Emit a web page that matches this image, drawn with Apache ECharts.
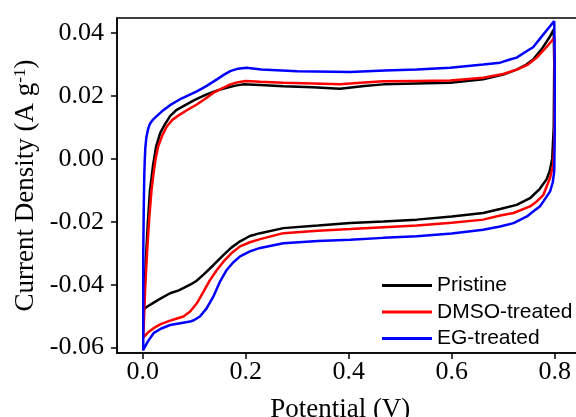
<!DOCTYPE html>
<html>
<head>
<meta charset="utf-8">
<script src="https://cdn.jsdelivr.net/npm/echarts@6/dist/echarts.min.js"></script>
<style>
html,body{margin:0;padding:0;background:#fff;}
#chart{width:576px;height:417px;}
</style>
</head>
<body>
<div id="chart"></div>
<script>
const seriesNames = ['Pristine', 'DMSO-treated', 'EG-treated'];
const xTicks = [0, 0.2, 0.4, 0.6, 0.8];
const yTicks = [-0.06, -0.04, -0.02, 0, 0.02, 0.04];

const pristine = [
 [0.002,-0.048],[0.006,-0.032],[0.010,-0.020],[0.014,-0.010],[0.020,-0.002],[0.026,0.004],[0.034,0.0083],[0.043,0.011],
 [0.053,0.0136],[0.065,0.0155],[0.079,0.0168],[0.1,0.0187],[0.124,0.0205],[0.145,0.0218],[0.163,0.0226],[0.18,0.0233],
 [0.195,0.0237],[0.228,0.0235],[0.273,0.0231],[0.33,0.0228],[0.383,0.0223],[0.43,0.0232],[0.467,0.0237],[0.53,0.024],
 [0.597,0.0242],[0.661,0.0253],[0.7,0.0268],[0.726,0.0284],[0.745,0.030],[0.758,0.0316],[0.775,0.035],[0.791,0.039],[0.798,0.0412],
 [0.799,0.03],[0.798,0.01],[0.795,0.0],[0.790,-0.004],[0.784,-0.0065],[0.771,-0.0095],[0.752,-0.0125],[0.726,-0.0146],
 [0.694,-0.0159],[0.661,-0.0172],[0.6,-0.0183],[0.532,-0.0193],[0.467,-0.0199],[0.403,-0.0204],[0.34,-0.0212],[0.273,-0.022],
 [0.228,-0.0236],[0.208,-0.0245],[0.189,-0.0262],[0.172,-0.0282],[0.157,-0.0305],[0.137,-0.0338],[0.118,-0.0368],[0.104,-0.0388],
 [0.092,-0.04],[0.07,-0.0418],[0.053,-0.0427],[0.03,-0.0448],[0.015,-0.0463],[0.004,-0.0475],[0.002,-0.048]
];
const dmso = [
 [0.001,-0.057],[0.005,-0.04],[0.009,-0.028],[0.013,-0.018],[0.017,-0.010],[0.021,-0.0045],[0.025,0.0],[0.030,0.004],
 [0.038,0.0075],[0.047,0.0104],[0.058,0.0125],[0.072,0.0141],[0.088,0.0157],[0.105,0.0173],[0.12,0.019],[0.137,0.021],
 [0.155,0.0225],[0.17,0.0237],[0.185,0.0244],[0.2,0.0248],[0.228,0.0245],[0.273,0.0242],[0.33,0.024],[0.383,0.0237],
 [0.43,0.0243],[0.467,0.0247],[0.53,0.0248],[0.597,0.0249],[0.661,0.0258],[0.7,0.027],[0.726,0.0284],[0.748,0.030],
 [0.765,0.0322],[0.782,0.0352],[0.794,0.0375],[0.799,0.0385],
 [0.8,0.025],[0.799,0.005],[0.797,-0.002],[0.791,-0.006],[0.778,-0.0114],[0.765,-0.0135],[0.752,-0.0151],[0.72,-0.0172],
 [0.694,-0.018],[0.661,-0.0193],[0.6,-0.0203],[0.532,-0.0212],[0.467,-0.0217],[0.403,-0.0223],[0.34,-0.0228],[0.273,-0.0236],
 [0.228,-0.0255],[0.208,-0.0265],[0.189,-0.0278],[0.172,-0.030],[0.157,-0.0326],[0.144,-0.0353],[0.131,-0.0384],[0.118,-0.0422],
 [0.105,-0.0459],[0.092,-0.0485],[0.079,-0.0501],[0.065,-0.0508],[0.053,-0.0514],[0.035,-0.0525],[0.021,-0.0538],[0.01,-0.0552],[0.001,-0.0568]
];
const eg = [
 [0.001,-0.061],[0.001,-0.045],[0.001,-0.03],[0.002,-0.015],[0.003,-0.005],[0.004,0.0],[0.005,0.0035],[0.007,0.0068],
 [0.010,0.0093],[0.014,0.0112],[0.020,0.0125],[0.027,0.0136],[0.04,0.0155],[0.053,0.0171],[0.075,0.0192],[0.105,0.0215],[0.125,0.0233],
 [0.144,0.0253],[0.158,0.0268],[0.17,0.0279],[0.185,0.0287],[0.202,0.029],[0.23,0.0284],[0.3,0.0279],[0.403,0.0276],
 [0.47,0.0281],[0.532,0.0284],[0.597,0.029],[0.661,0.030],[0.694,0.0306],[0.713,0.0316],[0.726,0.0322],[0.746,0.0343],
 [0.758,0.0355],[0.778,0.0396],[0.79,0.042],[0.799,0.0438],
 [0.8,0.03],[0.8,0.01],[0.799,-0.004],[0.796,-0.0075],[0.791,-0.0103],[0.778,-0.0135],[0.771,-0.0151],[0.758,-0.0167],
 [0.746,-0.0183],[0.72,-0.0204],[0.694,-0.0215],[0.661,-0.0225],[0.6,-0.0237],[0.532,-0.0246],[0.467,-0.0251],[0.403,-0.0257],
 [0.34,-0.0261],[0.273,-0.0268],[0.228,-0.0283],[0.208,-0.0294],[0.189,-0.031],[0.175,-0.033],[0.163,-0.0353],[0.15,-0.039],
 [0.137,-0.0438],[0.124,-0.0475],[0.111,-0.0501],[0.1,-0.0512],[0.092,-0.0517],[0.07,-0.0523],[0.053,-0.0528],[0.035,-0.054],
 [0.021,-0.0554],[0.01,-0.058],[0.001,-0.0607]
];
const colors = ['#000000', '#ff0000', '#0000ff'];

const serif = "'Liberation Serif','Times New Roman',serif";
const chart = echarts.init(document.getElementById('chart'), null, {renderer: 'canvas'});
const datasets = [pristine, dmso, eg];

chart.setOption({
  animation: false,
  backgroundColor: '#fff',
  grid: {left: 117, top: 18, right: -4.5, bottom: 64, containLabel: false, outerBoundsMode: 'none',
    show: true, borderColor: '#000', borderWidth: 1.5, backgroundColor: 'transparent'},
  legend: {
    data: seriesNames.map(n => ({name: n, icon: 'rect'})),
    orient: 'vertical',
    left: 382, top: 275, padding: 0,
    itemWidth: 50, itemHeight: 3, itemGap: 5.5,
    textStyle: {fontFamily: "'Liberation Sans',Arial,sans-serif", fontSize: 21, color: '#000', lineHeight: 20}
  },
  xAxis: {
    type: 'value', min: -0.05, max: 0.85,
    axisLine: {show: true, onZero: false, lineStyle: {color: '#000', width: 1.5}},
    axisTick: {show: true, inside: false, length: 6, lineStyle: {color: '#000', width: 1.5}, customValues: xTicks},
    axisLabel: {customValues: xTicks, formatter: v => v.toFixed(1), fontFamily: serif, fontSize: 26, color: '#000', margin: 6},
    splitLine: {show: false},
    name: 'Potential (V)', nameLocation: 'middle', nameGap: 43,
    nameTextStyle: {fontFamily: serif, fontSize: 27, color: '#000', padding: [0, 17, 0, 0]}
  },
  yAxis: {
    type: 'value', min: -0.0617, max: 0.0448,
    axisLine: {show: true, onZero: false, lineStyle: {color: '#000', width: 1.5}},
    axisTick: {show: true, inside: false, length: 6, lineStyle: {color: '#000', width: 1.5}, customValues: yTicks},
    axisLabel: {customValues: yTicks, formatter: v => v.toFixed(2), fontFamily: serif, fontSize: 26, color: '#000', margin: 13},
    splitLine: {show: false},
    name: 'Current Density (A g{sup|-1})', nameLocation: 'middle', nameGap: 74, nameRotate: 90,
    nameTextStyle: {fontFamily: serif, fontSize: 27, color: '#000',
      rich: {sup: {fontFamily: serif, fontSize: 17, color: '#000', verticalAlign: 'top', padding: [0, 0, 10, 0]}}}
  },
  series: seriesNames.map((n, i) => ({
    name: n, type: 'line', data: datasets[i], symbol: 'none', showSymbol: false,
    lineStyle: {color: colors[i], width: 2.5}, itemStyle: {color: colors[i]}, z: 2 + i
  }))
});
</script>
</body>
</html>
